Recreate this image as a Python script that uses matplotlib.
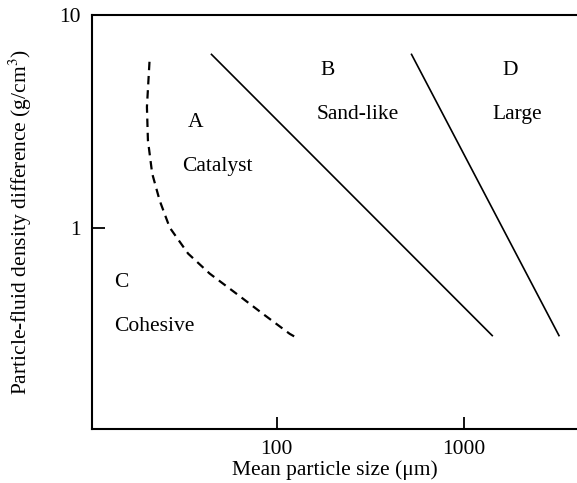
import matplotlib
matplotlib.use("Agg")
import matplotlib.pyplot as plt

plt.rcParams['font.family'] = ['Liberation Serif', 'DejaVu Serif']
plt.rcParams['mathtext.fontset'] = 'stix'

# Boundary A/C (dashed)
ac_size = [20.9, 20.25, 20.5, 21.6, 23.7, 26.8, 33.6, 43.8, 60.9, 84.1, 117.3, 130]
ac_dens = [6.04, 3.71, 2.59, 1.81, 1.35, 1.01, 0.763, 0.615, 0.495, 0.399, 0.321, 0.305]

# Boundary A/B
ab_size = [44.8, 1417]
ab_dens = [6.54, 0.315]

# Boundary B/D
bd_size = [525, 3221]
bd_dens = [6.54, 0.315]

# Group labels: letter, name, x letter, x name, y letter, y name
groups = [
    ("A", "Catalyst", 36.9, 48.3, 3.15, 1.95),
    ("B", "Sand-like", 187, 271, 5.52, 3.43),
    ("D", "Large", 1762, 1918, 5.52, 3.43),
    ("C", "Cohesive", 14.7, 22.3, 0.557, 0.347),
]

FS = 15.5

fig = plt.figure(figsize=(5.77, 4.83), dpi=100)
ax = fig.add_axes([0.1594, 0.1118, 0.8406, 0.8571])

ax.plot(ac_size, ac_dens, color='black', lw=1.6, linestyle=(0, (3.8, 2.6)))
ax.plot(ab_size, ab_dens, color='black', lw=1.2)
ax.plot(bd_size, bd_dens, color='black', lw=1.2)

for letter, name, xl, xn, yl, yn in groups:
    ax.text(xl, yl, letter, fontsize=FS, ha='center', va='center')
    ax.text(xn, yn, name, fontsize=FS, ha='center', va='center')

ax.set_xscale('log')
ax.set_yscale('log')
ax.set_xlim(10.3, 4020)
ax.set_ylim(0.115, 10)

ax.set_xticks([100, 1000])
ax.set_xticklabels(["100", "1000"])
ax.set_yticks([1, 10])
ax.set_yticklabels(["1", "10"])
ax.minorticks_off()
ax.tick_params(direction='in', length=9, width=1.3, labelsize=FS, pad=8)

for s in ['left', 'bottom', 'top']:
    ax.spines[s].set_linewidth(1.5)
ax.spines['right'].set_visible(False)

ax.set_xlabel("Mean particle size (μm)", fontsize=FS, labelpad=1)
ax.set_ylabel("Particle-fluid density difference (g/cm$^3$)", fontsize=FS, labelpad=18)

fig.savefig("out.png", dpi=100)
